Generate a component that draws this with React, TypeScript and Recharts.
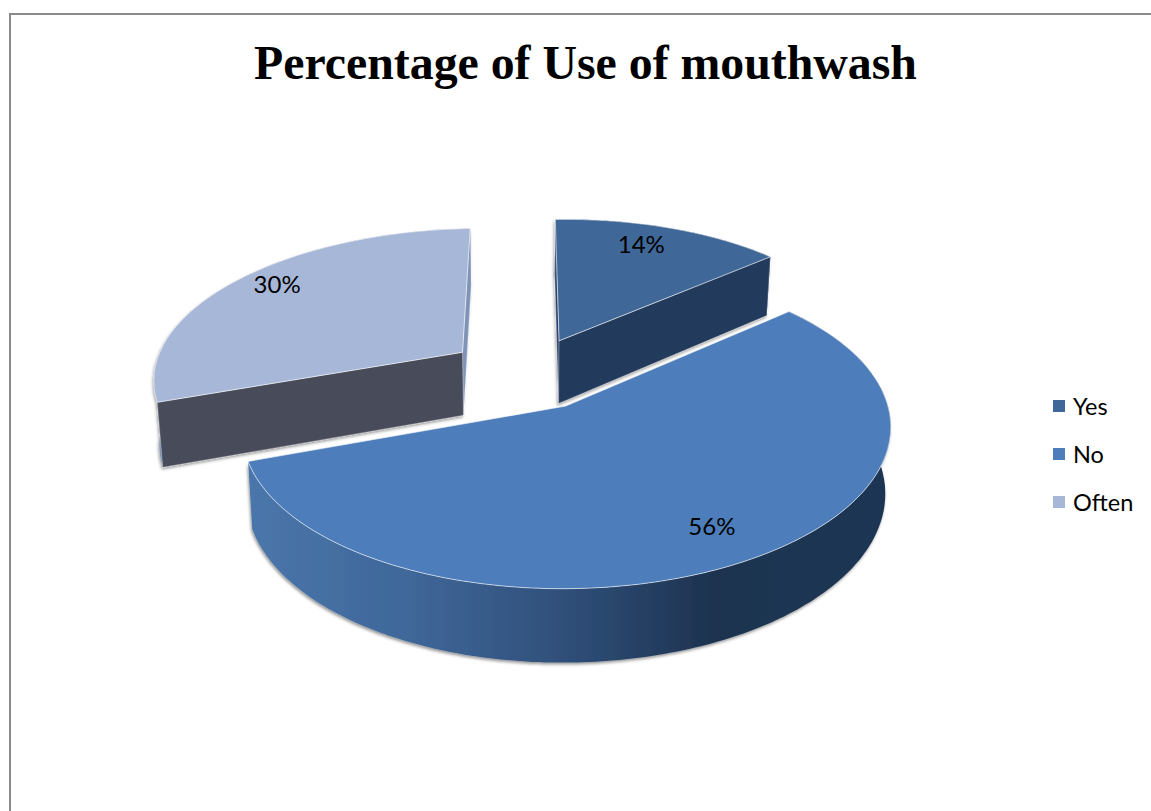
import { Cell, Legend, Pie, PieChart } from "recharts";

const categories = ["Yes", "No", "Often"];
const shares = [14, 56, 30];
const sliceColors = ["#3f6797", "#4d7ebb", "#a7b7d7"];

const data = categories.map((name, i) => ({ name, value: shares[i] }));

// flat wall colour per slice; "No" gets the horizontal gradient on its rim
const radialWall: Record<string, string> = { Yes: "#243a5c", No: "#243a5c", Often: "#474c5a" };
const rimWall: Record<string, string> = { Yes: "#2b4469", No: "url(#rimNo)", Often: "#7f93b8" };
// percent label placement: distance from the slice hub and turn off the mid angle
const labelReach: Record<string, number> = { Yes: 0.834, No: 0.805, Often: 0.865 };
const labelTurn: Record<string, number> = { Yes: 3.2, No: 0.8, Often: -3.2 };
const explode: Record<string, number> = { Yes: 0.25, No: 0.25, Often: 0.262 };

const TILT = 0.472;
const PERSPECTIVE = 0.14;
const DEPTH = 64;
const SHEAR = 0.015;
const CONVERGE = 0.015;
const RAD = Math.PI / 180;

// plane coordinates (unit radius) to screen; drop > 0 is the underside
const project = (cx: number, cy: number, r: number, x: number, y: number, drop = 0) => {
  const d = 1 + PERSPECTIVE * y;
  const shrink = drop > 0 ? 1 - CONVERGE : 1;
  const sx = ((r * x) / d) * shrink;
  const sy = ((-r * TILT * y) / d - SHEAR * ((r * x) / d)) * shrink;
  return [cx + sx, cy + sy + drop / d];
};

const toPath = (pts: number[][]) =>
  "M" + pts.map((p) => `${p[0].toFixed(1)},${p[1].toFixed(1)}`).join("L") + "Z";

const Slice3D = (props: any) => {
  const { cx, cy, outerRadius: r, startAngle, endAngle, name, fill } = props;
  const mid = ((startAngle + endAngle) / 2) * RAD;
  const ox = explode[name] * Math.cos(mid);
  const oy = explode[name] * Math.sin(mid);

  const plane: number[][] = [];
  const steps = Math.ceil(Math.abs(endAngle - startAngle));
  for (let i = 0; i <= steps; i++) {
    const a = (startAngle + ((endAngle - startAngle) * i) / steps) * RAD;
    plane.push([ox + Math.cos(a), oy + Math.sin(a)]);
  }
  const at = (p: number[], drop = 0) => project(cx, cy, r, p[0], p[1], drop);
  const hub = [ox, oy];
  const first = plane[0];
  const last = plane[plane.length - 1];

  const top = [at(hub), ...plane.map((p) => at(p))];
  const rim = [...plane.map((p) => at(p)), ...plane.slice().reverse().map((p) => at(p, DEPTH))];
  const cut = (p: number[]) => [at(hub), at(p), at(p, DEPTH), at(hub, DEPTH)];

  // a cut face shows only when its normal looks toward the camera
  const camY = -1 / PERSPECTIVE;
  const faces = (edge: number[], nx: number, ny: number) =>
    nx * (0 - (edge[0] + hub[0]) / 2) + ny * (camY - (edge[1] + hub[1]) / 2) > 0;
  const sa = startAngle * RAD;
  const ea = endAngle * RAD;
  const cuts = [
    { p: first, show: faces(first, -Math.sin(sa), Math.cos(sa)) },
    { p: last, show: faces(last, Math.sin(ea), -Math.cos(ea)) },
  ]
    .filter((c) => c.show)
    .sort((a, b) => b.p[1] - a.p[1]);

  return (
    <g>
      <g filter="url(#wallShadow)">
        <path d={toPath(rim)} fill={rimWall[name]} />
        {cuts.map((c, i) => (
          <path
            key={i}
            d={toPath(cut(c.p))}
            fill={Math.abs(c.p[1] - hub[1]) > 0.9 ? rimWall[name] : radialWall[name]}
            stroke="#ffffff"
            strokeOpacity={0.35}
            strokeWidth={0.7}
          />
        ))}
      </g>
      <path d={toPath(top)} fill={fill} stroke="#ffffff" strokeOpacity={0.6} strokeWidth={1} />
    </g>
  );
};

const renderPercent = (props: any) => {
  const { cx, cy, outerRadius: r, startAngle, endAngle, name, value } = props;
  const mid = ((startAngle + endAngle) / 2) * RAD;
  const aim = mid + labelTurn[name] * RAD;
  const lx = explode[name] * Math.cos(mid) + labelReach[name] * Math.cos(aim);
  const ly = explode[name] * Math.sin(mid) + labelReach[name] * Math.sin(aim);
  const [x, y] = project(cx, cy, r, lx, ly);
  return (
    <text x={x} y={y} textAnchor="middle" dominantBaseline="central" fontFamily="Lato" fontSize={24} fill="#000">
      {value}%
    </text>
  );
};

const renderLegend = () => (
  <div>
    {categories.map((name, i) => (
      <div key={name} style={{ display: "flex", alignItems: "center", height: 48 }}>
        <span style={{ width: 12, height: 12, background: sliceColors[i], marginRight: 8 }} />
        <span style={{ fontFamily: "Lato", fontSize: 23.5, color: "#000" }}>{name}</span>
      </div>
    ))}
  </div>
);

export default function App() {
  return (
    <div style={{ position: "absolute", left: 0, top: 0, width: 1151, height: 811, overflow: "hidden", background: "#fff" }}>
      <div
        style={{
          position: "absolute",
          left: 9,
          top: 13,
          width: 1160,
          height: 820,
          borderTop: "2px solid #8a8a8a",
          borderLeft: "2px solid #8a8a8a",
        }}
      />
      <PieChart width={1151} height={811} margin={{ top: 0, right: 0, bottom: 0, left: 0 }} style={{ position: "absolute" }}>
        <defs>
          <linearGradient id="rimNo" gradientUnits="userSpaceOnUse" x1={249} x2={891} y1={0} y2={0}>
            <stop offset="0" stopColor="#4a76ab" />
            <stop offset="0.25" stopColor="#3f6799" />
            <stop offset="0.5" stopColor="#2f4e78" />
            <stop offset="0.72" stopColor="#1d3350" />
            <stop offset="1" stopColor="#1f3654" />
          </linearGradient>
          <filter id="wallShadow" x="-5%" y="-5%" width="110%" height="110%">
            <feDropShadow dx={-1} dy={2} stdDeviation={1.6} floodColor="#000" floodOpacity={0.4} />
          </filter>
        </defs>
        <text x={585.5} y={79} textAnchor="middle" fontFamily="Liberation Serif" fontWeight="bold" fontSize={47.8} fill="#000">
          Percentage of Use of mouthwash
        </text>
        <Pie
          data={data}
          dataKey="value"
          nameKey="name"
          cx={527}
          cy={373.5}
          outerRadius={311}
          startAngle={90}
          endAngle={-270}
          stroke="none"
          shape={Slice3D}
          label={renderPercent}
          labelLine={false}
          isAnimationActive={false}
        >
          {data.map((d, i) => (
            <Cell key={d.name} fill={sliceColors[i]} />
          ))}
        </Pie>
        <Legend content={renderLegend} wrapperStyle={{ position: "absolute", left: 1053, top: 382, width: 98, bottom: "auto" }} />
      </PieChart>
    </div>
  );
}
